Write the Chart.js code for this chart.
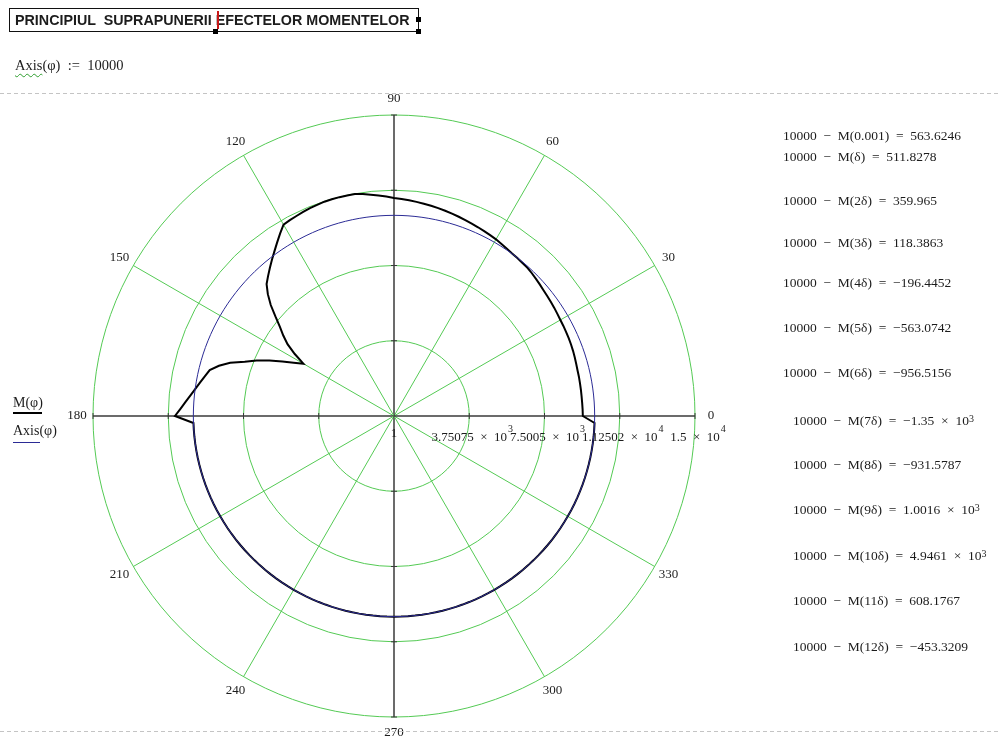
<!DOCTYPE html>
<html>
<head>
<meta charset="utf-8">
<title>PRINCIPIUL SUPRAPUNERII EFECTELOR MOMENTELOR</title>
<script src="https://cdn.jsdelivr.net/npm/chart.js@4/dist/chart.umd.min.js"></script>
<style>
  html, body { margin: 0; padding: 0; background: #fff; }
  body { width: 1000px; height: 737px; position: relative; overflow: hidden;
         font-family: "Liberation Serif", "Times New Roman", serif; color: #1c1c1c; }
  #plot { position: absolute; left: 0; top: 0; }
  .txt { position: absolute; white-space: pre; line-height: 1; }
  .title { left: 9px; top: 8px; width: 410px; height: 24px; border: 1px solid #111;
           font-family: "Liberation Sans", Arial, sans-serif; font-weight: bold; font-size: 14.3px;
           line-height: 22px; padding-left: 5px; box-sizing: border-box; white-space: pre; position: absolute; }
  .cursor { position: absolute; left: 217px; top: 11px; width: 2px; height: 18px; background: #c81818; }
  .handle { position: absolute; width: 5px; height: 5px; background: #000; }
  .dash { position: absolute; left: 0; width: 1000px; height: 1px;
          background: repeating-linear-gradient(to right, #c4c4c4 0 4px, transparent 4px 7px); }
  .wavy { text-decoration: underline wavy #2e9e2e; text-decoration-thickness: 1px; text-underline-offset: 3px; }
  .row { font-size: 13.5px; }
  .row sup { font-size: 10px; position: relative; top: -3px; vertical-align: baseline; }
  .leg { font-size: 14px; }
  .legline { position: absolute; }
</style>
</head>
<body>
<canvas id="plot" width="1000" height="737"></canvas>

<div class="title">PRINCIPIUL  SUPRAPUNERII EFECTELOR MOMENTELOR</div>
<div class="cursor"></div>
<div class="handle" style="left:213px;top:29px"></div>
<div class="handle" style="left:416px;top:17px"></div>
<div class="handle" style="left:416px;top:29px"></div>

<div class="txt" style="left:15px;top:58px;font-size:14.5px"><span class="wavy">Axis</span>(φ)&#x2002;:=&#x2002;10000</div>

<div class="dash" style="top:93px"></div>
<div class="dash" style="top:731px"></div>

<div class="txt leg" style="left:13px;top:396px">M(φ)</div>
<div class="legline" style="left:13px;top:412px;width:29px;height:2px;background:#000"></div>
<div class="txt leg" style="left:13px;top:424px">Axis(φ)</div>
<div class="legline" style="left:13px;top:442px;width:27px;height:1px;background:#2b2b95"></div>

<div id="results"></div>

<script>
// Polar sampling of the plot (degrees between consecutive samples, counter-clockwise from 0°)
const ANGLE_STEP = 2;

// M(φ) for φ = 0°, 2°, 4°, ... 358°
const mValues = [
  9410, 9405, 9400, 9400, 9405, 9410, 9420, 9425, 9445, 9470,      //   0 –  18
  9495, 9515, 9530, 9545, 9560, 9575, 9600, 9635, 9665, 9700,      //  20 –  38
  9735, 9785, 9835, 9890, 9940, 9960, 9985, 10010, 10060, 10110,   //  40 –  58
  10165, 10205, 10250, 10295, 10340, 10390, 10440, 10490, 10540, 10590, //  60 –  78
  10640, 10685, 10730, 10775, 10820, 10865, 10940, 11020, 11090, 11170, //  80 –  98
  11230, 11235, 11240, 11240, 11230, 11200, 11175, 11130, 11090, 11055, // 100 – 118
  11010, 10715, 10420, 10140, 9880, 9625, 9380, 9140, 8740, 8265,  // 120 – 138
  7715, 7215, 6820, 6400, 5830, 5215, 5665, 6190, 6795, 7385,      // 140 – 158
  7915, 8585, 9075, 9465, 9620, 9790, 9970, 10170, 10395, 10640,   // 160 – 178
  10915, 10000, 10000, 10000, 10000, 10000, 10000, 10000, 10000, 10000, // 180 – 198
  10000, 10000, 10000, 10000, 10000, 10000, 10000, 10000, 10000, 10000, // 200 – 218
  10000, 10000, 10000, 10000, 10000, 10000, 10000, 10000, 10000, 10000, // 220 – 238
  10000, 10000, 10000, 10000, 10000, 10000, 10000, 10000, 10000, 10000, // 240 – 258
  10000, 10000, 10000, 10000, 10000, 10000, 10000, 10000, 10000, 10000, // 260 – 278
  10000, 10000, 10000, 10000, 10000, 10000, 10000, 10000, 10000, 10000, // 280 – 298
  10000, 10000, 10000, 10000, 10000, 10000, 10000, 10000, 10000, 10000, // 300 – 318
  10000, 10000, 10000, 10000, 10000, 10000, 10000, 10000, 10000, 10000, // 320 – 338
  10000, 10000, 10000, 10000, 10000, 10000, 10000, 10000, 10000, 10000  // 340 – 358
];

// Axis(φ) := 10000
const AXIS_VALUE = 10000;

// Radial scale
const R_MIN = 0;
const R_MAX = 15000;
const R_STEP = 3750;
const ringValues = [3750, 7500, 11250, 15000];
const ringMantissa = ['3.75075', '7.5005', '1.12502', '1.5'];
const ringExponent = ['3', '3', '4', '4'];
const centreLabel = '1';

// Angular tick labels
const angleTicks = [0, 30, 60, 90, 120, 150, 180, 210, 240, 270, 300, 330];

// Values printed beside the plot: 10000 − M(kδ)
const resultArgs  = ['0.001', 'δ', '2δ', '3δ', '4δ', '5δ', '6δ', '7δ', '8δ', '9δ', '10δ', '11δ', '12δ'];
const resultVals  = ['563.6246', '511.8278', '359.965', '118.3863', '−196.4452', '−563.0742', '−956.5156',
                     '−1.35', '−931.5787', '1.0016', '4.9461', '608.1767', '−453.3209'];
const resultPow   = ['', '', '', '', '', '', '', '3', '', '3', '3', '', ''];

const GRID_GREEN = 'rgb(84,202,84)';
const AXIS_DARK = '#3a3a3a';
const SERIF = '"Liberation Serif", "Times New Roman", serif';

// ---- side column of results ----
(function () {
  const tops = [129, 150, 194, 236, 276, 321, 366, 414, 458, 503, 549, 594, 640];
  const lefts = [783, 783, 783, 783, 783, 783, 783, 793, 793, 793, 793, 793, 793];
  const host = document.getElementById('results');
  resultArgs.forEach((arg, i) => {
    const d = document.createElement('div');
    d.className = 'txt row';
    d.style.left = lefts[i] + 'px';
    d.style.top = tops[i] + 'px';
    const s = '10000\u2002\u2212\u2002M(' + arg + ')\u2002=\u2002' + resultVals[i];
    d.textContent = s;
    if (resultPow[i]) {
      d.textContent = s + '\u2002×\u200210';
      const sup = document.createElement('sup');
      sup.textContent = resultPow[i];
      d.appendChild(sup);
    }
    host.appendChild(d);
  });
})();

// Radar labels run clockwise; index i sits at the counter-clockwise angle (360 − i·step)
const sampleCount = mValues.length;
const angleOfIndex = i => (360 - i * ANGLE_STEP) % 360;
const labels = Array.from({ length: sampleCount }, (_, i) => String(angleOfIndex(i)));
const mSeries = labels.map((_, i) => mValues[angleOfIndex(i) / ANGLE_STEP]);
const axisSeries = labels.map(() => AXIS_VALUE);

// Angle labels, axis tick marks and radial value labels
const polarDecor = {
  id: 'polarDecor',
  beforeDatasetsDraw(chart) {
    const s = chart.scales.r;
    const ctx = chart.ctx;
    ctx.save();
    ctx.strokeStyle = AXIS_DARK;
    ctx.lineWidth = 1;
    ringValues.forEach(v => {
      const d = s.getDistanceFromCenterForValue(v);
      [0, 90, 180, 270].forEach(a => {
        const p = s.getPointPosition(((360 - a) % 360) / ANGLE_STEP, d);
        ctx.beginPath();
        if (a % 180 === 0) { ctx.moveTo(p.x, p.y - 3); ctx.lineTo(p.x, p.y + 3); }
        else { ctx.moveTo(p.x - 3, p.y); ctx.lineTo(p.x + 3, p.y); }
        ctx.stroke();
      });
    });
    ctx.restore();
  },
  afterDraw(chart) {
    const s = chart.scales.r;
    const ctx = chart.ctx;
    ctx.save();
    ctx.fillStyle = '#1c1c1c';
    ctx.font = '13px ' + SERIF;
    ctx.textAlign = 'center';
    ctx.textBaseline = 'middle';
    angleTicks.forEach(a => {
      const p = s.getPointPosition(((360 - a) % 360) / ANGLE_STEP, s.drawingArea + 16);
      ctx.fillText(String(a), p.x, p.y);
    });

    // radial value labels along the 0° axis
    const y = s.yCenter + 22;
    ctx.fillText(centreLabel, s.xCenter, s.yCenter + 18);
    ringValues.forEach((v, i) => {
      const x = s.xCenter + s.getDistanceFromCenterForValue(v);
      ctx.font = '13px ' + SERIF;
      const main = ringMantissa[i] + '\u2002×\u200210';
      const w = ctx.measureText(main).width;
      ctx.textAlign = 'left';
      ctx.fillText(main, x - w / 2, y);
      ctx.font = '10px ' + SERIF;
      ctx.fillText(ringExponent[i], x + w / 2 + 1, y - 9);
    });
    ctx.restore();
  }
};

new Chart(document.getElementById('plot'), {
  type: 'radar',
  data: {
    labels: labels,
    datasets: [
      {
        label: 'Axis(φ)',
        data: axisSeries,
        borderColor: '#2b2b95',
        borderWidth: 1,
        pointRadius: 0,
        pointHitRadius: 0,
        fill: false,
        tension: 0,
        order: 0
      },
      {
        label: 'M(φ)',
        data: mSeries,
        borderColor: '#000000',
        borderWidth: 2,
        borderJoinStyle: 'miter',
        pointRadius: 0,
        pointHitRadius: 0,
        fill: false,
        tension: 0,
        order: 1
      }
    ]
  },
  options: {
    responsive: false,
    animation: false,
    devicePixelRatio: 1,
    events: [],
    layout: { padding: { left: 93, right: 305, top: 115, bottom: 20 } },
    plugins: { legend: { display: false }, tooltip: { enabled: false } },
    scales: {
      r: {
        min: R_MIN,
        max: R_MAX,
        startAngle: 90,
        ticks: { display: false, stepSize: R_STEP },
        pointLabels: { display: false },
        grid: { circular: true, color: GRID_GREEN, lineWidth: 1 },
        angleLines: {
          display: true,
          color: c => (angleOfIndex(c.index) % 90 === 0 ? AXIS_DARK : GRID_GREEN),
          lineWidth: c => {
            const a = angleOfIndex(c.index);
            if (a % 30 !== 0) return 0;
            return a % 90 === 0 ? 1.5 : 1;
          }
        }
      }
    }
  },
  plugins: [polarDecor]
});
</script>
</body>
</html>
